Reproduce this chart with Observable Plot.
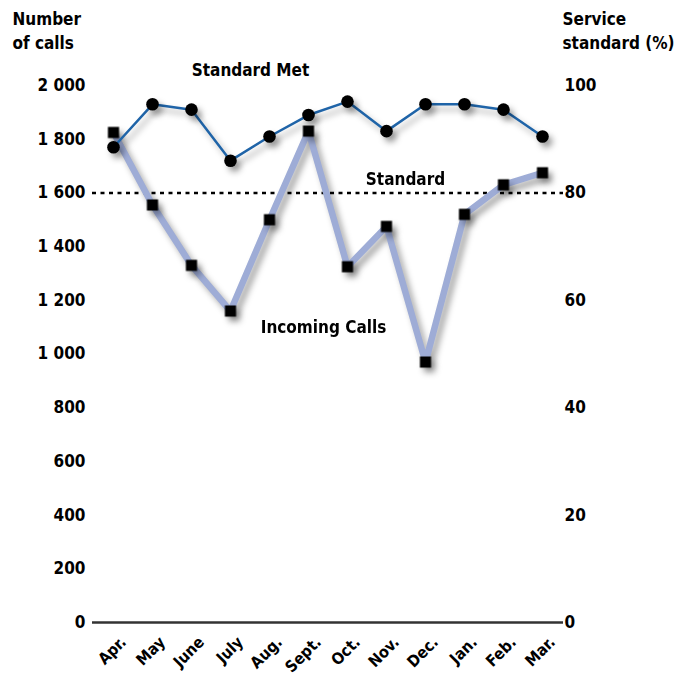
<!DOCTYPE html>
<html>
<head>
<meta charset="utf-8">
<script src="https://cdn.jsdelivr.net/npm/d3@7"></script>
<script src="https://cdn.jsdelivr.net/npm/@observablehq/plot@0.6"></script>
<style>
  html, body { margin: 0; padding: 0; background: #fff; }
  #chart svg { display: block; }
</style>
</head>
<body>
<div id="chart"></div>
<script>
// Fiscal-year months (April to March)
const months = ["Apr.", "May", "June", "July", "Aug.", "Sept.", "Oct.", "Nov.", "Dec.", "Jan.", "Feb.", "Mar."];

// Number of incoming calls per month (left axis)
const incomingCalls = [1825, 1555, 1330, 1160, 1500, 1830, 1325, 1475, 970, 1520, 1630, 1675];

// Share of calls answered within the service standard, % (right axis)
const standardMet = [88.5, 96.5, 95.5, 86, 90.5, 94.5, 97, 91.5, 96.5, 96.5, 95.5, 90.5];

// Service standard target, %
const standardTarget = 80;

// Axis ticks
const callTicks = [0, 200, 400, 600, 800, 1000, 1200, 1400, 1600, 1800, 2000];
const pctTicks = [0, 20, 40, 60, 80, 100];

// Both axes share one vertical scale: 100 % sits level with 2 000 calls
const callsMax = 2000;
const pctMax = 100;
const pctToCalls = p => p * callsMax / pctMax;

const calls = months.map((m, i) => ({month: m, value: incomingCalls[i]}));
const met = months.map((m, i) => ({month: m, value: standardMet[i]}));

const font = "'DejaVu Sans Condensed', 'DejaVu Sans', sans-serif";
const spaced = d => d3.format(",")(d).replace(/,/g, " ");

const chart = Plot.plot({
  width: 687,
  height: 676,
  marginTop: 85,
  marginBottom: 54,
  marginLeft: 92,
  marginRight: 124,
  style: {fontFamily: font, fontSize: "17px", fontWeight: "bold", fontStretch: "condensed", color: "#000", background: "#fff"},
  x: {type: "point", domain: months, padding: 0.5},
  y: {domain: [0, callsMax]},
  marks: [
    // left axis: number of calls
    Plot.axisY({anchor: "left", ticks: callTicks, tickFormat: spaced, tickSize: 0, tickPadding: 7, fontSize: 17, label: null}),
    // right axis: service standard in %
    Plot.axisY({anchor: "right", ticks: pctTicks.map(pctToCalls), tickFormat: d => d * pctMax / callsMax, tickSize: 0, tickPadding: 1, fontSize: 17, label: null}),
    // months along the bottom
    Plot.axisX({anchor: "bottom", tickSize: 0, tickRotate: -45, tickPadding: 17, dx: 10, fontSize: 16, label: null}),

    // axis titles
    Plot.text(["Number\nof calls"], {frameAnchor: "top-left", dx: -80, dy: -77, textAnchor: "start", lineAnchor: "top", lineHeight: 1.4, fontSize: 17, fontWeight: "bold"}),
    Plot.text(["Service\nstandard (%)"], {frameAnchor: "top-right", dx: -1, dy: -77, textAnchor: "start", lineAnchor: "top", lineHeight: 1.4, fontSize: 17, fontWeight: "bold"}),

    // baseline
    Plot.ruleY([0], {stroke: "#333", strokeWidth: 2.5}),
    // service standard target
    Plot.ruleY([pctToCalls(standardTarget)], {stroke: "#000", strokeWidth: 2.5, strokeDasharray: "4,4.5"}),

    // incoming calls
    Plot.line(calls, {x: "month", y: "value", stroke: "#9eacd6", strokeWidth: 6.5, strokeLinejoin: "miter"}),
    Plot.dot(calls, {x: "month", y: "value", symbol: "square", r: 6.3, fill: "#000", stroke: "none"}),

    // standard met
    Plot.line(met, {x: "month", y: d => pctToCalls(d.value), stroke: "#1f64a8", strokeWidth: 2.5}),
    Plot.dot(met, {x: "month", y: d => pctToCalls(d.value), r: 6.3, fill: "#000", stroke: "none"}),

    // series labels
    Plot.text(["Standard Met"], {x: () => "July", y: () => callsMax, dx: 20, dy: -15, fontSize: 17, fontWeight: "bold"}),
    Plot.text(["Standard"], {x: () => "Dec.", y: () => pctToCalls(standardTarget), dx: -20, dy: -13, fontSize: 17, fontWeight: "bold"}),
    Plot.text(["Incoming Calls"], {x: () => "Sept.", y: () => 1100, dx: 15, fontSize: 17, fontWeight: "bold"})
  ]
});

// soft drop shadow under the plotted series
d3.select(chart).selectAll("g[aria-label='line'], g[aria-label='dot']")
  .style("filter", "drop-shadow(4px 5px 3px rgba(0,0,0,0.35))");

document.getElementById("chart").appendChild(chart);
</script>
</body>
</html>
